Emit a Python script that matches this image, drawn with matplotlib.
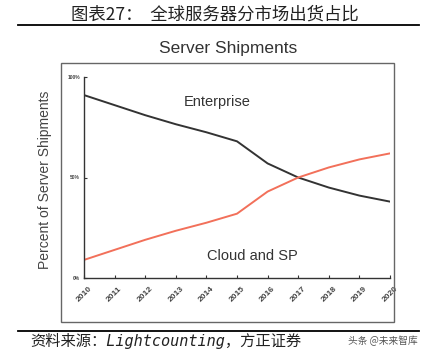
import numpy as np
import matplotlib.pyplot as plt
from matplotlib.patches import Rectangle
from matplotlib.lines import Line2D

plt.rcParams['font.family'] = ['Liberation Sans', 'Noto Sans CJK SC', 'DejaVu Sans']

# data (percent of shipments)
years = [2010, 2011, 2012, 2013, 2014, 2015, 2016, 2017, 2018, 2019, 2020]
enterprise = [91, 86, 81, 76.5, 72.5, 68, 57, 50, 45, 41, 38]
cloud = [9, 14, 19, 23.5, 27.5, 32, 43, 50, 55, 59, 62]
ytick_vals = [0, 50, 100]
ytick_labels = ['0%', '50%', '100%']

fig = plt.figure(figsize=(4.36, 3.59), dpi=100)
W, H = 436, 359

def fx(px):
    return px / W

def fy(py):
    return 1 - py / H

# header and rules
fig.text(fx(215), fy(15), '图表27：  全球服务器分市场出货占比', ha='center', va='center',
         fontsize=12.5, family=['Noto Sans CJK SC', 'DejaVu Sans'], color='#222222')
fig.add_artist(Line2D([fx(18), fx(419)], [fy(25), fy(25)], color='black', lw=1.3))
fig.add_artist(Line2D([fx(18), fx(419)], [fy(331), fy(331)], color='black', lw=1.3))

# grey frame around the chart
fig.add_artist(Rectangle((fx(61), fy(322)), fx(394) - fx(61), fy(63) - fy(322),
                         fill=False, edgecolor='#666666', lw=1.0))

fig.text(fx(228), fy(48), 'Server Shipments', ha='center', va='center',
         fontsize=12.5, color='#333333')

ax = fig.add_axes([fx(84), fy(278), fx(390) - fx(84), fy(77) - fy(278)])
ax.plot(years, enterprise, color='#333333', lw=1.4)
ax.plot(years, cloud, color='#f2705a', lw=1.4)
ax.set_xlim(2010, 2020)
ax.set_ylim(0, 100)
ax.set_xticks(years)
ax.set_xticklabels([str(y) for y in years], rotation=45, ha='center', fontsize=6,
                   color='#444444', fontweight='bold')
ax.set_yticks(ytick_vals)
ax.set_yticklabels(ytick_labels, fontsize=3.5, color='#444444', fontweight='bold')
ax.tick_params(axis='both', direction='in', length=2, width=0.8, color='#333333', pad=3)
ax.tick_params(axis='x', pad=5)
for s in ['top', 'right']:
    ax.spines[s].set_visible(False)
for s in ['left', 'bottom']:
    ax.spines[s].set_color('#333333')
    ax.spines[s].set_linewidth(1.0)

ax.text(2014.35, 87.5, 'Enterprise', ha='center', va='center', fontsize=10.5, color='#333333')
ax.text(2015.5, 11, 'Cloud and SP', ha='center', va='center', fontsize=10.5, color='#333333')

fig.text(fx(45), fy(180), 'Percent of Server Shipments', rotation=90, ha='center', va='center',
         fontsize=10, color='#444444')

# footer
fig.text(fx(30), fy(341), '资料来源：Lightcounting，方正证券', ha='left', va='center',
         fontsize=11, style='italic', family=['DejaVu Sans Mono', 'Noto Sans CJK SC'],
         color='#222222')
fig.text(fx(418), fy(341), '头条 @未来智库', ha='right', va='center',
         fontsize=7, family=['Noto Sans CJK SC', 'DejaVu Sans'], color='#555555')

fig.savefig('out.png', dpi=100)
